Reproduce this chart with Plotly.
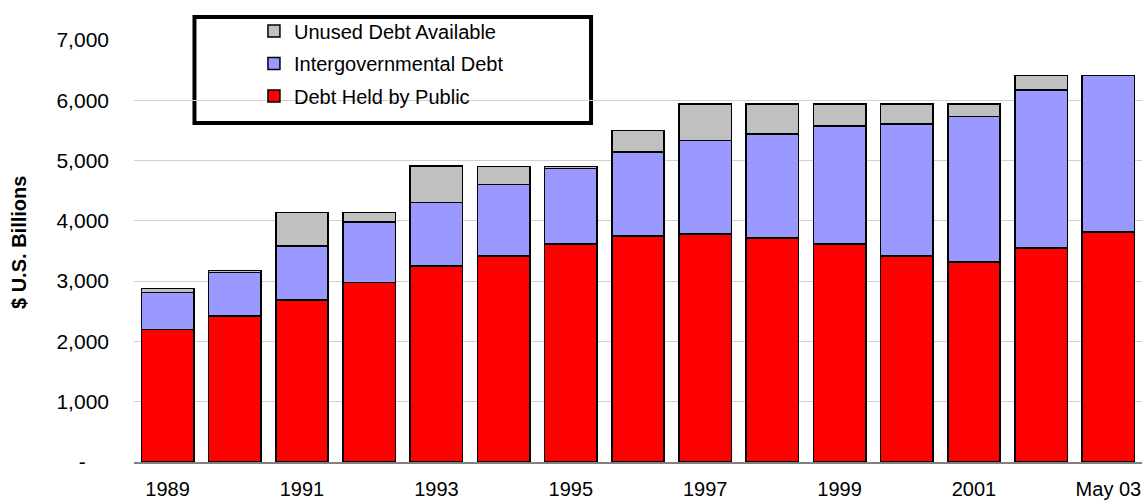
import plotly.graph_objects as go

categories = ["1989", "1990", "1991", "1992", "1993", "1994", "1995", "1996",
              "1997", "1998", "1999", "2000", "2001", "2002", "May 03"]
debt_public = [2198, 2419, 2684, 2978, 3249, 3415, 3619, 3752,
               3780, 3713, 3619, 3415, 3320, 3547, 3813]
intergov_debt = [614, 725, 897, 1001, 1057, 1190, 1251, 1389,
                 1555, 1727, 1954, 2191, 2414, 2623, 2595]
unused_debt = [66, 33, 559, 161, 603, 299, 34, 360,
               603, 498, 365, 332, 204, 238, 0]

x_tickvals = ["1989", "1991", "1993", "1995", "1997", "1999", "2001", "May 03"]
x_ticktext = ["1989", "1991", "1993", "1995", "1997", "1999", "2001", "May 03"]
y_tickvals = [0, 1000, 2000, 3000, 4000, 5000, 6000, 7000]
y_ticktext = ["-\u00a0\u00a0\u00a0\u00a0", "1,000", "2,000", "3,000", "4,000",
              "5,000", "6,000", "7,000"]
y_title = "$ U.S. Billions"

FONT = "Arial, 'Liberation Sans', sans-serif"
line = dict(color="black", width=1.5)

fig = go.Figure()
fig.add_trace(go.Bar(x=categories, y=debt_public, name="Debt Held by Public",
                     marker=dict(color="#FF0000", line=line),
                     legendgroup="public", legendrank=3))
fig.add_trace(go.Bar(x=categories, y=intergov_debt, name="Intergovernmental Debt",
                     marker=dict(color="#9999FF", line=line),
                     legendgroup="intergov", legendrank=2))
fig.add_trace(go.Bar(x=categories, y=unused_debt, name="Unused Debt Available",
                     marker=dict(color="#C0C0C0", line=line),
                     legendgroup="unused", legendrank=1))

# legend frame
fig.add_shape(type="rect", xref="paper", yref="paper",
              x0=0.0600, x1=0.4534, y0=0.8033, y1=1.0545,
              line=dict(color="black", width=4), fillcolor="white", layer="below")

# y-axis title
fig.add_annotation(text="<b>" + y_title + "</b>", xref="paper", yref="paper",
                   x=(18.5 - 134) / 1008, y=(462 - 242.5) / 422,
                   xanchor="center", yanchor="middle", textangle=-90,
                   showarrow=False, font=dict(family=FONT, size=20, color="black"))

fig.update_layout(
    width=1145, height=502,
    margin=dict(l=134, r=3, t=40, b=40),
    barmode="stack", bargap=0.22,
    plot_bgcolor="white", paper_bgcolor="white",
    font=dict(family=FONT, color="black", size=21),
    showlegend=True,
    legend=dict(x=0.119, y=1.0678, xanchor="left", yanchor="top",
                traceorder="grouped", tracegroupgap=3.5,
                bgcolor="rgba(0,0,0,0)", borderwidth=0,
                font=dict(family=FONT, size=20, color="black"),
                itemwidth=30),
    xaxis=dict(type="category", tickmode="array", tickvals=x_tickvals,
               ticktext=x_ticktext, showline=True, linecolor="#808080",
               linewidth=1.5, ticks="", ticklabelstandoff=8,
               tickfont=dict(size=20), showgrid=False, automargin=False),
    yaxis=dict(range=[0, 7000], tickmode="array", tickvals=y_tickvals,
               ticktext=y_ticktext, showgrid=True, gridcolor="#D0D0D0",
               gridwidth=1, zeroline=False, showline=False, ticks="",
               ticklabelstandoff=24, tickfont=dict(size=21), automargin=False),
)

fig.write_html("out.html")
